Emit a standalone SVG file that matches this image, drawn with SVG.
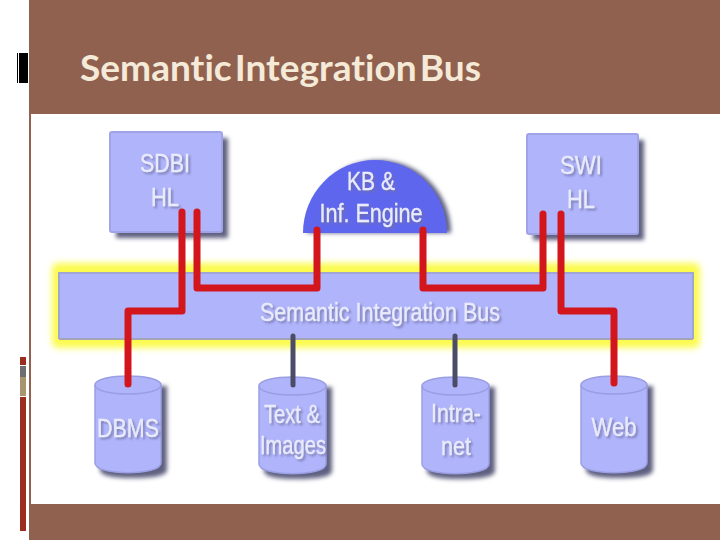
<svg xmlns="http://www.w3.org/2000/svg" width="720" height="540" viewBox="0 0 720 540">
<style>
.band{fill:#916150}
.box{fill:#b0b4fb;stroke:#a0a4e6;stroke-width:2}
.shadow{fill:#5e6080;filter:url(#soft)}
.cyl{fill:#b0b4fb;stroke:#9a9ee2;stroke-width:1.5}
.lid{fill:none;stroke:#9a9ee2;stroke-width:1.5}
.lbl{font-family:"Liberation Sans",Arial,sans-serif;font-size:25px;fill:#e9ebfc;stroke:#e9ebfc;stroke-width:.3;text-anchor:middle;filter:url(#txt)}
.red{fill:none;stroke:#d2141e;stroke-width:7;stroke-linejoin:round;stroke-linecap:round;filter:url(#line)}
.dark{fill:none;stroke:#4c4e68;stroke-width:5;stroke-linecap:round;filter:url(#line)}
</style>
<defs>
<filter id="soft" x="-20%" y="-20%" width="140%" height="140%"><feGaussianBlur stdDeviation="2"/></filter>
<filter id="glow" x="-5%" y="-30%" width="110%" height="160%"><feGaussianBlur stdDeviation="3"/></filter>
<filter id="line" x="-50" y="-50" width="800" height="600" filterUnits="userSpaceOnUse"><feGaussianBlur stdDeviation="0.6"/></filter>
<filter id="txt" x="-20%" y="-20%" width="150%" height="150%"><feGaussianBlur in="SourceAlpha" stdDeviation="1.2" result="b"/><feOffset in="b" dx="1.5" dy="2" result="o"/><feFlood flood-color="#6e70a0" flood-opacity=".75"/><feComposite in2="o" operator="in" result="s"/><feGaussianBlur in="SourceGraphic" stdDeviation="0.4" result="t"/><feMerge><feMergeNode in="s"/><feMergeNode in="t"/></feMerge></filter>
</defs>
<rect width="720" height="540" fill="#fff"/>
<g id="slide-frame">
<rect class="band" x="29" y="0" width="691" height="114"/>
<rect class="band" x="29" y="504" width="691" height="36"/>
<rect class="band" x="29" y="114" width="2" height="390"/>
<rect x="17" y="53" width="1" height="30" fill="#000"/>
<rect x="19" y="53" width="9" height="30" fill="#000"/>
<rect x="20" y="357" width="6" height="8" fill="#9c2c20"/>
<rect x="20" y="366" width="6" height="11" fill="#6e6e6e"/>
<rect x="20" y="377" width="6" height="19" fill="#a8956e"/>
<rect x="20" y="397" width="6" height="134" fill="#9c2c20"/>
<text x="80" y="81" font-family="Lato,'Open Sans',sans-serif" font-size="37" font-weight="700" word-spacing="-6" fill="#f5ead8" style="font-variant-ligatures:none" textLength="401" lengthAdjust="spacingAndGlyphs">Semantic Integration Bus</text>
</g>
<g id="bus">
<rect x="52" y="263" width="648" height="85" rx="6" fill="#fbfb50" filter="url(#glow)"/>
<rect x="59" y="273" width="634" height="66" fill="#b0b4fb"/>
<path d="M59 339V273H693V339" fill="none" stroke="#a3a5d2" stroke-width="2"/>
<path d="M59 339H693" fill="none" stroke="#a3a4b8" stroke-width="2"/>
<text class="lbl" x="380" y="321" textLength="240" lengthAdjust="spacingAndGlyphs">Semantic Integration Bus</text>
</g>
<g id="sdbi">
<rect class="shadow" x="116" y="138" width="112" height="100"/>
<rect class="box" x="110" y="132" width="112" height="100" rx="2"/>
<text class="lbl" x="165" y="172" textLength="50" lengthAdjust="spacingAndGlyphs">SDBI</text>
<text class="lbl" x="165" y="206" textLength="28" lengthAdjust="spacingAndGlyphs">HL</text>
</g>
<g id="kb">
<path class="shadow" d="M307 233A72 73 0 0 1 451 233Z"/>
<path d="M303 233A72 73 0 0 1 447 233Z" fill="#5f66ee"/>
<text class="lbl" x="371" y="190" textLength="48" lengthAdjust="spacingAndGlyphs">KB &amp;</text>
<text class="lbl" x="371" y="222" textLength="103" lengthAdjust="spacingAndGlyphs">Inf. Engine</text>
</g>
<g id="swi">
<rect class="shadow" x="533" y="140" width="111" height="100"/>
<rect class="box" x="527" y="134" width="111" height="100" rx="2"/>
<text class="lbl" x="581" y="174" textLength="42" lengthAdjust="spacingAndGlyphs">SWI</text>
<text class="lbl" x="581" y="208" textLength="28" lengthAdjust="spacingAndGlyphs">HL</text>
</g>
<g id="dbms">
<path class="shadow" d="M100 386V470Q100 478 132 478Q167 478 167 470V386Z"/>
<path class="cyl" d="M95 385C95 373 161 373 161 385V463C161 476 95 476 95 463Z"/>
<path class="lid" d="M95 385C95 397 161 397 161 385"/>
<text class="lbl" x="128" y="437" textLength="62" lengthAdjust="spacingAndGlyphs">DBMS</text>
</g>
<g id="text-images">
<path class="shadow" d="M264 387V471Q264 479 296 479Q332 479 332 471V387Z"/>
<path class="cyl" d="M259 386C259 374 326 374 326 386V464C326 477 259 477 259 464Z"/>
<path class="lid" d="M259 386C259 398 326 398 326 386"/>
<text class="lbl" x="292" y="423" textLength="56" lengthAdjust="spacingAndGlyphs">Text &amp;</text>
<text class="lbl" x="293" y="454" textLength="66" lengthAdjust="spacingAndGlyphs">Images</text>
</g>
<g id="intranet">
<path class="shadow" d="M427 387V471Q427 479 459 479Q495 479 495 471V387Z"/>
<path class="cyl" d="M422 386C422 374 489 374 489 386V464C489 477 422 477 422 464Z"/>
<path class="lid" d="M422 386C422 398 489 398 489 386"/>
<text class="lbl" x="456" y="422" textLength="50" lengthAdjust="spacingAndGlyphs">Intra-</text>
<text class="lbl" x="456" y="455" textLength="30" lengthAdjust="spacingAndGlyphs">net</text>
</g>
<g id="web">
<path class="shadow" d="M586 386V470Q586 478 618 478Q653 478 653 470V386Z"/>
<path class="cyl" d="M581 385C581 373 647 373 647 385V463C647 476 581 476 581 463Z"/>
<path class="lid" d="M581 385C581 397 647 397 647 385"/>
<text class="lbl" x="614" y="436" textLength="45" lengthAdjust="spacingAndGlyphs">Web</text>
</g>
<g id="connectors">
<path class="red" d="M182 212V311H128V384"/>
<path class="red" d="M197 212V288H317V230"/>
<path class="red" d="M423 230V288H543V214"/>
<path class="red" d="M561 214V311H614V383"/>
<path class="dark" d="M293 336V385"/>
<path class="dark" d="M455 336V385"/>
</g>
</svg>
